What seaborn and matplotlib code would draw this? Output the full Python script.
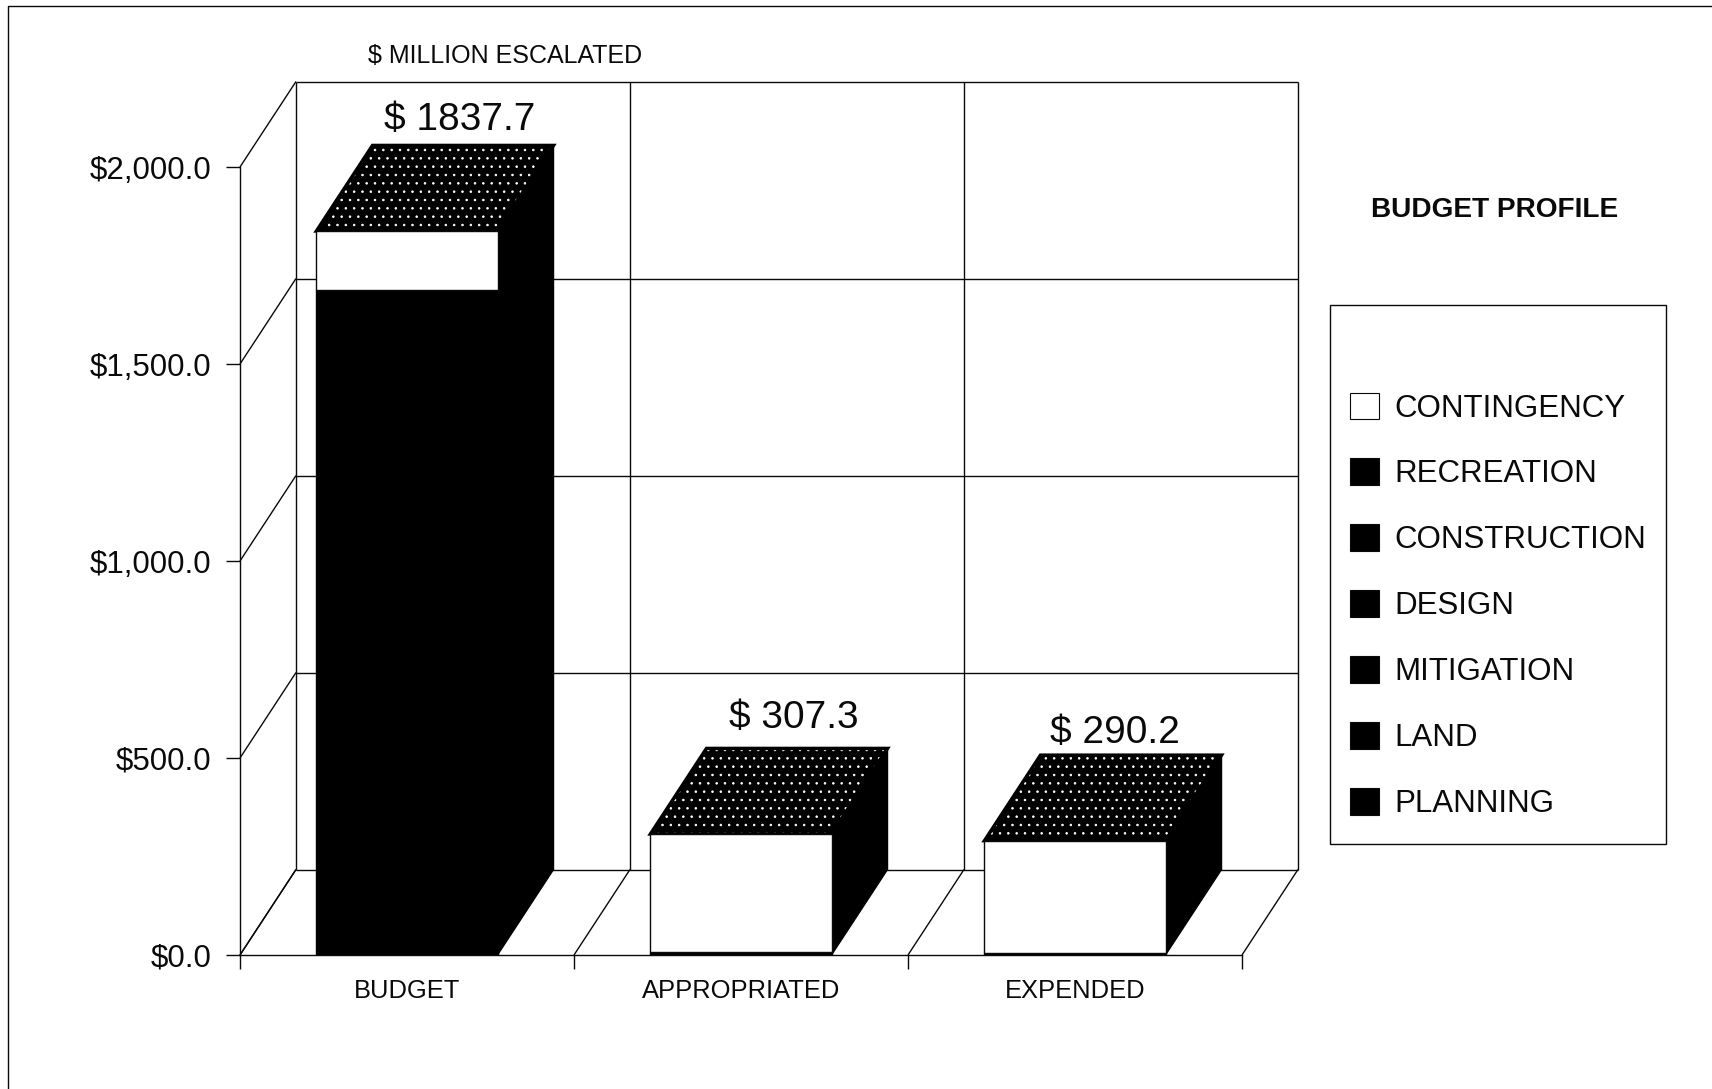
import matplotlib
matplotlib.use("Agg")
import matplotlib.pyplot as plt
from matplotlib.lines import Line2D
from matplotlib.patches import Patch, Polygon, Rectangle
import seaborn as sns

# Data
categories = ["BUDGET", "APPROPRIATED", "EXPENDED"]
totals = [1837.7, 307.3, 290.2]
contingency = [151.0, 300.0, 284.0]
# The six other series are all solid black, so only their sum can be read
other_series_sum = [1686.7, 7.3, 6.2]
legend_labels = ["CONTINGENCY", "RECREATION", "CONSTRUCTION", "DESIGN",
                 "MITIGATION", "LAND", "PLANNING"]
value_labels = ["$ 1837.7", "$ 307.3", "$ 290.2"]
y_ticks = [0, 500, 1000, 1500, 2000]

W, H = 1712, 1089
sns.set_theme(style="white")
plt.rcParams["font.family"] = ["Liberation Sans", "DejaVu Sans"]
plt.rcParams["hatch.linewidth"] = 0.6
INK = "#0a0a0a"


def fx(px):
    return px / W


def fy(py):
    return 1 - py / H


fig = plt.figure(figsize=(W / 100, H / 100), dpi=100, facecolor="white")
left, right, top, bottom = 240, 1242, 167, 955
ax = fig.add_axes([fx(left), fy(bottom), (right - left) / W, (bottom - top) / H])
ax.patch.set_alpha(0)

# Oblique depth of the pseudo-3D box, in data units
x_per_px = 3 / (right - left)
y_per_px = 2000 / (bottom - top)
DX = 56 * x_per_px
DY = 85.5 * y_per_px
BAR_W = 0.542

sns.barplot(x=categories, y=other_series_sum, color="black", saturation=1,
            width=BAR_W, ax=ax, zorder=4, linewidth=1, edgecolor="black")
sns.barplot(x=categories, y=contingency, bottom=other_series_sum, color="white",
            saturation=1, width=BAR_W, ax=ax, zorder=5, linewidth=1, edgecolor=INK)

ax.set_xlim(-0.5, 2.5)
ax.set_ylim(0, 2000)

line_kw = dict(color=INK, lw=1.0, clip_on=False, zorder=1, solid_capstyle="butt")
edges = [-0.5, 0.5, 1.5, 2.5]
for v in y_ticks:
    ax.plot([-0.5, -0.5 + DX], [v, v + DY], **line_kw)
    ax.plot([-0.5 + DX, 2.5 + DX], [v + DY, v + DY], **line_kw)
for e in edges:
    ax.plot([e, e + DX], [0, DY], **line_kw)
    ax.plot([e + DX, e + DX], [DY, 2000 + DY], **line_kw)

# Side and top faces of each column, derived from its total
for i, total in enumerate(totals):
    xl, xr = i - BAR_W / 2, i + BAR_W / 2
    ax.add_patch(Polygon([(xr, 0), (xr + DX, DY), (xr + DX, total + DY), (xr, total)],
                         closed=True, fc="black", ec="black", lw=1,
                         clip_on=False, zorder=3))
    top_pts = [(xl, total), (xr, total), (xr + DX, total + DY), (xl + DX, total + DY)]
    ax.add_patch(Polygon(top_pts, closed=True, fc="black", ec="white", lw=0,
                         hatch="..", clip_on=False, zorder=3))
    ax.add_patch(Polygon(top_pts, closed=True, fill=False, ec="black", lw=2.5,
                         clip_on=False, zorder=3.5))

# Value labels above the columns
label_dx = [0.075, 0.075, 0.037]
label_dy = [25, 30, 22]
for i, (total, label) in enumerate(zip(totals, value_labels)):
    ax.text(i + DX / 2 + label_dx[i], total + DY + label_dy[i] * y_per_px, label,
            ha="center", va="center", fontsize=28, color=INK, clip_on=False)

# Axes furniture
sns.despine(ax=ax, top=True, right=True)
for s in ("left", "bottom"):
    ax.spines[s].set_linewidth(1.0)
    ax.spines[s].set_color(INK)
    ax.spines[s].set_zorder(6)
ax.set_yticks(y_ticks)
ax.set_yticklabels([f"${v:,.1f}" for v in y_ticks], fontsize=22.5, color=INK)
ax.tick_params(axis="y", left=True, length=10, width=1.0, color=INK, pad=10.5)
ax.set_xticks([0, 1, 2])
ax.set_xticklabels(categories, fontsize=18.4, color=INK)
ax.tick_params(axis="x", which="major", bottom=False, length=0, pad=17)
ax.set_xticks(edges, minor=True)
ax.tick_params(axis="x", which="minor", bottom=True, length=10, width=1.0, color=INK)
ax.set_xlabel("")
ax.set_ylabel("")

# Page texts
fig.text(fx(505), fy(56), "$ MILLION ESCALATED", ha="center", va="center",
         fontsize=18, color=INK)
fig.text(fx(1495), fy(210), "BUDGET PROFILE", ha="center", va="center",
         fontsize=20.2, fontweight="bold", color=INK)

# Legend box and entries
fig.add_artist(Rectangle((fx(1330), fy(844)), 336 / W, 539 / H, transform=fig.transFigure,
                         fc="white", ec=INK, lw=1.0))
handles = [Patch(facecolor="white" if name == "CONTINGENCY" else "black",
                 edgecolor=INK, linewidth=0.8) for name in legend_labels]
fig.legend(handles, legend_labels, loc="upper left",
           bbox_to_anchor=(fx(1337.5), fy(380)), frameon=False, fontsize=22.5,
           labelspacing=1.117, handlelength=0.93, handleheight=0.93,
           handletextpad=0.49, labelcolor=INK, borderpad=0.4, borderaxespad=0)

# Outer page frame (left and top edges only are visible)
fig.add_artist(Line2D([fx(8), fx(8), 1], [0, fy(6), fy(6)], color=INK, lw=1.0,
                      transform=fig.transFigure))

fig.savefig("out.png", dpi=100, facecolor="white")
